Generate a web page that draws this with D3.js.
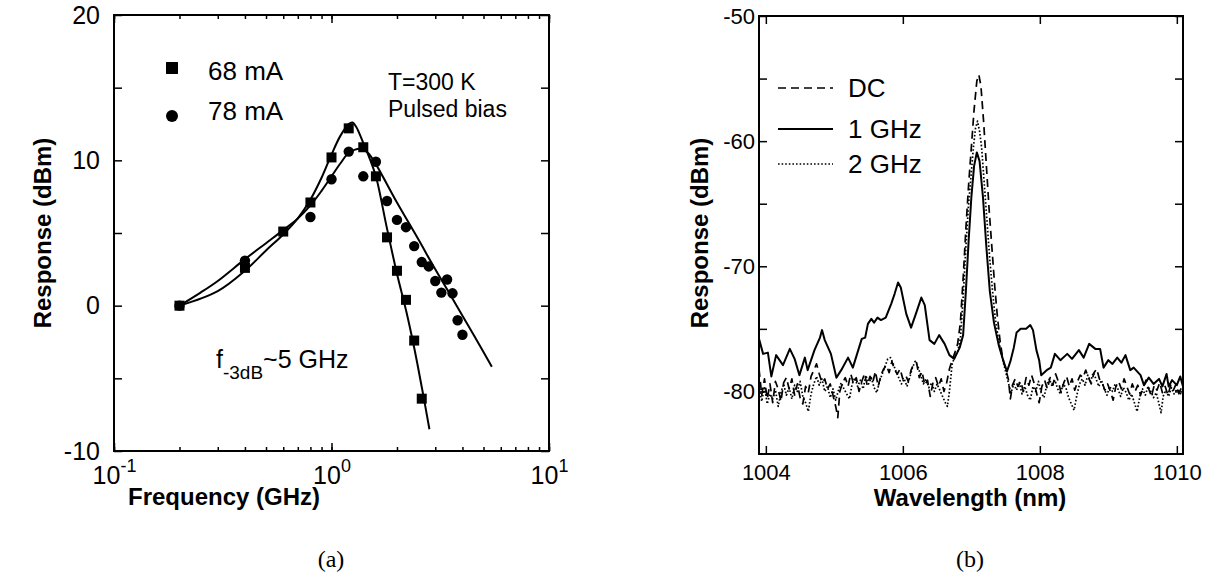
<!DOCTYPE html>
<html>
<head>
<meta charset="utf-8">
<script src="https://cdn.jsdelivr.net/npm/d3@7"></script>
<style>
  body { margin: 0; background: #fff; }
  svg { display: block; font-family: "Liberation Sans", Arial, sans-serif; }
</style>
</head>
<body>
<svg id="chart" width="1230" height="584"></svg>
<script>
// ---- panel (a): modulation response ----
const freq68 = [0.2, 0.4, 0.6, 0.8, 1.0, 1.2, 1.4, 1.6, 1.8, 2.0, 2.2, 2.4, 2.6]
const resp68 = [0, 2.6, 5.1, 7.1, 10.2, 12.2, 10.9, 8.9, 4.7, 2.4, 0.4, -2.4, -6.4]

const freq78 = [0.2, 0.4, 0.8, 1.0, 1.2, 1.4, 1.6, 1.8, 2.0, 2.2, 2.4, 2.6, 2.8, 3.0, 3.2, 3.4, 3.6, 3.8, 4.0]
const resp78 = [0, 3.1, 6.1, 8.7, 10.6, 8.9, 9.9, 7.2, 5.9, 5.4, 4.1, 3.0, 2.7, 1.7, 0.9, 1.8, 0.85, -1.0, -2.0]

// fitted curves
const fit68 = [[0.2, 0], [0.3, 1.0], [0.4, 2.4], [0.5, 3.8], [0.6, 4.9], [0.7, 6.0], [0.8, 7.3], [0.9, 8.8],
  [1.0, 10.4], [1.1, 11.7], [1.2, 12.5], [1.25, 12.6], [1.3, 12.3], [1.4, 11.2], [1.5, 10.1], [1.6, 8.9],
  [1.8, 5.3], [2.0, 2.2], [2.2, -0.3], [2.4, -2.9], [2.6, -5.6], [2.82, -8.5]]
const fit78 = [[0.2, 0], [0.25, 0.9], [0.3, 1.7], [0.4, 3.2], [0.5, 4.3], [0.6, 5.2], [0.7, 6.0], [0.8, 6.9],
  [0.9, 7.9], [1.0, 8.9], [1.1, 9.8], [1.2, 10.5], [1.35, 10.8], [1.45, 10.6], [1.56, 10.0], [2.0, 7.1],
  [2.5, 4.6], [3.0, 2.5], [3.5, 0.8], [4.0, -0.7], [4.5, -2.0], [5.46, -4.2]]

const yTicksA = [-10, -5, 0, 5, 10, 15, 20]
const xMajorA = [0.1, 1, 10]
const xExpA = ['-1', '0', '1']

// ---- panel (b): optical spectra ----
const legendB = ['DC', '1 GHz', '2 GHz']
const yTicksB = [-80, -75, -70, -65, -60, -55, -50]
const xTicksB = [1004, 1006, 1008, 1010]

const spec1GHz = [[1003.9, -75.8], [1003.96, -77.0], [1004.03, -76.9], [1004.08, -78.8], [1004.15, -77.1],
  [1004.25, -77.9], [1004.35, -76.6], [1004.42, -77.4], [1004.49, -78.7], [1004.57, -77.3], [1004.61, -78.3],
  [1004.71, -76.7], [1004.79, -75.7], [1004.82, -75.1], [1004.86, -75.9], [1004.95, -77.0], [1005.03, -78.9],
  [1005.1, -78.3], [1005.2, -77.3], [1005.27, -78.1], [1005.4, -75.8], [1005.45, -75.7], [1005.49, -74.6],
  [1005.54, -74.2], [1005.58, -74.5], [1005.63, -74.1], [1005.68, -74.3], [1005.75, -74.1], [1005.83, -73.0],
  [1005.88, -72.2], [1005.93, -71.3], [1005.97, -71.7], [1006.05, -73.8], [1006.12, -74.9], [1006.19, -73.8],
  [1006.27, -72.5], [1006.32, -73.1], [1006.39, -75.9], [1006.46, -76.2], [1006.53, -75.5], [1006.61, -76.2],
  [1006.68, -77.1], [1006.75, -77.4], [1006.83, -76.5], [1006.88, -75.5], [1006.92, -72], [1006.96, -68],
  [1007.0, -64.5], [1007.04, -62], [1007.08, -60.9], [1007.12, -61.6], [1007.17, -64.5], [1007.22, -68.5],
  [1007.27, -72], [1007.33, -74.5], [1007.4, -76.3], [1007.47, -77.6], [1007.52, -78.4], [1007.57, -77.6],
  [1007.62, -76.5], [1007.66, -75.3], [1007.72, -75.0], [1007.8, -75.0], [1007.86, -74.7], [1007.9, -75.1],
  [1007.95, -76.7], [1007.99, -77.5], [1008.02, -78.7], [1008.1, -78.3], [1008.16, -78.1], [1008.22, -77.0],
  [1008.3, -77.5], [1008.4, -77.0], [1008.47, -77.4], [1008.57, -76.7], [1008.64, -77.3], [1008.72, -76.2],
  [1008.81, -76.6], [1008.88, -76.6], [1008.93, -78.1], [1009.0, -77.5], [1009.06, -77.8], [1009.13, -77.3],
  [1009.19, -77.7], [1009.25, -77.1], [1009.32, -78.3], [1009.37, -78.1], [1009.47, -78.7], [1009.52, -79.5],
  [1009.59, -78.9], [1009.66, -79.4], [1009.74, -79.0], [1009.79, -79.6], [1009.85, -78.6], [1009.88, -79.6],
  [1009.93, -79.1], [1010.0, -79.5], [1010.05, -78.8], [1010.09, -79.6]]

const specDC = [[1003.9, -78.2], [1003.94, -80.3], [1003.98, -79.0], [1004.02, -80.6], [1004.06, -79.4],
  [1004.1, -80.9], [1004.14, -79.2], [1004.18, -79.8], [1004.22, -80.8], [1004.26, -79.3], [1004.3, -78.9],
  [1004.34, -79.8], [1004.38, -79.0], [1004.42, -80.3], [1004.46, -79.4], [1004.5, -80.5], [1004.54, -81.0],
  [1004.58, -79.6], [1004.62, -80.1], [1004.66, -78.8], [1004.7, -78.3], [1004.74, -77.8], [1004.78, -78.6],
  [1004.82, -79.3], [1004.86, -79.0], [1004.9, -79.8], [1004.94, -79.4], [1004.98, -80.3], [1005.02, -81.2],
  [1005.05, -82.1], [1005.08, -80.0], [1005.12, -79.3], [1005.16, -78.9], [1005.2, -79.6], [1005.24, -78.6],
  [1005.28, -79.4], [1005.32, -78.9], [1005.36, -80.0], [1005.4, -79.2], [1005.44, -78.6], [1005.48, -79.5],
  [1005.52, -78.8], [1005.56, -79.3], [1005.6, -78.4], [1005.64, -79.6], [1005.68, -78.7], [1005.72, -78.2],
  [1005.76, -77.9], [1005.8, -78.5], [1005.84, -77.6], [1005.88, -78.3], [1005.92, -78.6], [1005.96, -78.2],
  [1006.0, -79.0], [1006.04, -78.7], [1006.08, -79.2], [1006.12, -78.3], [1006.16, -77.8], [1006.2, -77.7],
  [1006.24, -78.9], [1006.28, -78.4], [1006.32, -79.5], [1006.36, -79.1], [1006.4, -80.4], [1006.44, -79.3],
  [1006.48, -78.9], [1006.52, -79.6], [1006.56, -79.0], [1006.6, -80.0], [1006.64, -79.3], [1006.68, -78.2],
  [1006.72, -77.5], [1006.76, -76.9], [1006.8, -76.2], [1006.84, -74.5], [1006.88, -71], [1006.92, -67],
  [1006.96, -63.5], [1007.0, -60.5], [1007.04, -57.5], [1007.08, -55.2], [1007.11, -54.7], [1007.14, -55.6],
  [1007.18, -58.5], [1007.22, -62], [1007.26, -65.5], [1007.3, -68.5], [1007.34, -71.5], [1007.38, -74],
  [1007.42, -76], [1007.46, -77.4], [1007.5, -78.2], [1007.54, -79.0], [1007.57, -80.6], [1007.6, -79.5],
  [1007.64, -79.0], [1007.68, -79.6], [1007.72, -79.2], [1007.76, -80.0], [1007.8, -78.9], [1007.84, -79.5],
  [1007.88, -78.7], [1007.92, -79.4], [1007.96, -80.3], [1007.99, -80.9], [1008.03, -79.6], [1008.07, -79.1],
  [1008.11, -79.8], [1008.15, -78.9], [1008.19, -79.5], [1008.23, -78.6], [1008.27, -79.2], [1008.31, -80.1],
  [1008.35, -79.3], [1008.39, -78.8], [1008.43, -79.6], [1008.47, -79.0], [1008.51, -79.9], [1008.55, -79.2],
  [1008.59, -78.7], [1008.63, -78.9], [1008.67, -78.3], [1008.71, -78.9], [1008.75, -79.4], [1008.79, -78.5],
  [1008.83, -78.2], [1008.87, -79.0], [1008.91, -79.3], [1008.95, -79.9], [1008.99, -79.4], [1009.03, -80.0],
  [1009.07, -80.7], [1009.11, -79.6], [1009.15, -79.2], [1009.19, -79.8], [1009.23, -79.0], [1009.27, -79.6],
  [1009.31, -80.2], [1009.35, -79.4], [1009.39, -80.0], [1009.43, -79.5], [1009.47, -80.3], [1009.51, -79.7],
  [1009.55, -79.1], [1009.59, -79.8], [1009.63, -80.4], [1009.67, -79.5], [1009.71, -79.9], [1009.75, -79.3],
  [1009.79, -80.1], [1009.83, -79.6], [1009.87, -80.3], [1009.91, -79.5], [1009.95, -79.9], [1009.99, -79.4],
  [1010.03, -80.1], [1010.07, -79.7], [1010.09, -80.0]]

const spec2GHz = [[1003.9, -79.5], [1003.94, -80.8], [1003.98, -79.6], [1004.02, -81.0], [1004.06, -80.2],
  [1004.1, -80.6], [1004.14, -79.9], [1004.18, -81.2], [1004.22, -80.1], [1004.26, -79.4], [1004.3, -80.3],
  [1004.34, -79.7], [1004.38, -80.6], [1004.42, -79.5], [1004.46, -80.0], [1004.5, -79.2], [1004.54, -80.4],
  [1004.58, -80.9], [1004.62, -81.6], [1004.66, -80.2], [1004.7, -79.4], [1004.74, -78.8], [1004.78, -79.5],
  [1004.82, -79.0], [1004.86, -80.0], [1004.9, -79.6], [1004.94, -80.5], [1004.98, -79.8], [1005.02, -80.7],
  [1005.06, -79.9], [1005.1, -79.3], [1005.14, -79.8], [1005.18, -80.2], [1005.22, -80.6], [1005.26, -79.4],
  [1005.3, -78.9], [1005.34, -79.6], [1005.38, -79.1], [1005.42, -79.8], [1005.46, -78.7], [1005.5, -79.4],
  [1005.54, -78.9], [1005.58, -79.7], [1005.62, -80.1], [1005.66, -79.2], [1005.7, -78.6], [1005.74, -78.0],
  [1005.78, -77.4], [1005.82, -77.3], [1005.86, -77.8], [1005.9, -78.4], [1005.94, -78.9], [1005.98, -79.4],
  [1006.02, -79.0], [1006.06, -79.6], [1006.1, -78.9], [1006.14, -78.1], [1006.18, -77.6], [1006.22, -78.0],
  [1006.26, -78.7], [1006.3, -79.4], [1006.34, -79.0], [1006.38, -79.7], [1006.42, -79.3], [1006.46, -80.0],
  [1006.5, -79.4], [1006.54, -79.9], [1006.58, -80.4], [1006.62, -80.9], [1006.65, -81.2], [1006.68, -80.0],
  [1006.72, -77.8], [1006.76, -77.2], [1006.8, -76.8], [1006.84, -75.8], [1006.88, -72.5], [1006.92, -68.5],
  [1006.96, -65], [1007.0, -62.5], [1007.03, -60.5], [1007.06, -59], [1007.09, -58.4], [1007.12, -59.2],
  [1007.15, -60.5], [1007.19, -63.5], [1007.23, -66.5], [1007.27, -69.5], [1007.31, -72], [1007.35, -74.2],
  [1007.4, -76], [1007.45, -77.3], [1007.5, -78.4], [1007.54, -79.3], [1007.58, -80.1], [1007.62, -79.4],
  [1007.66, -79.9], [1007.7, -79.3], [1007.74, -80.2], [1007.78, -79.6], [1007.82, -80.3], [1007.86, -80.7],
  [1007.9, -79.6], [1007.94, -80.0], [1007.98, -79.2], [1008.02, -80.1], [1008.06, -80.5], [1008.1, -79.5],
  [1008.14, -79.0], [1008.18, -79.6], [1008.22, -79.1], [1008.26, -79.8], [1008.3, -80.2], [1008.34, -79.4],
  [1008.38, -79.7], [1008.42, -80.5], [1008.46, -81.0], [1008.5, -81.5], [1008.54, -80.3], [1008.58, -79.4],
  [1008.62, -79.0], [1008.66, -79.5], [1008.7, -78.7], [1008.74, -79.2], [1008.78, -78.5], [1008.82, -79.0],
  [1008.86, -79.6], [1008.9, -79.1], [1008.94, -79.8], [1008.98, -80.3], [1009.02, -79.6], [1009.06, -80.0],
  [1009.1, -79.4], [1009.14, -79.8], [1009.18, -80.4], [1009.22, -79.7], [1009.26, -80.1], [1009.3, -80.7],
  [1009.34, -80.2], [1009.38, -80.9], [1009.42, -81.6], [1009.46, -80.4], [1009.5, -79.8], [1009.54, -80.3],
  [1009.58, -79.6], [1009.62, -80.0], [1009.66, -80.5], [1009.7, -80.1], [1009.74, -81.0], [1009.77, -81.7],
  [1009.8, -80.4], [1009.84, -79.9], [1009.88, -80.4], [1009.92, -79.7], [1009.96, -80.2], [1010.0, -79.8],
  [1010.04, -80.3], [1010.09, -79.9]]

const svg = d3.select('#chart')
svg.append('rect').attr('width', 1230).attr('height', 584).attr('fill', '#fff')

// common axis clean-up
function styleAxis(sel, size) {
  sel.attr('font-family', null).attr('font-size', size || 24)
  sel.select('.domain').remove()
  sel.selectAll('line').attr('stroke', '#000').attr('stroke-width', 1.5)
  sel.selectAll('text').attr('fill', '#000')
}

/* ===================== panel (a) ===================== */
const xa = d3.scaleLog().domain([0.1, 10]).range([114, 549])
const ya = d3.scaleLinear().domain([-10, 20]).range([451, 15])
const ga = svg.append('g')

// minor + major log ticks, bottom and top, pointing inward
ga.append('g').attr('transform', 'translate(0,451)')
  .call(d3.axisBottom(xa).tickValues(xa.ticks()).tickSizeInner(-4).tickSizeOuter(0).tickFormat(''))
  .call(styleAxis)
ga.append('g').attr('transform', 'translate(0,15)')
  .call(d3.axisTop(xa).tickValues(xa.ticks()).tickSizeInner(-4).tickSizeOuter(0).tickFormat(''))
  .call(styleAxis)
ga.append('g').attr('transform', 'translate(0,15)')
  .call(d3.axisTop(xa).tickValues(xMajorA).tickSizeInner(-8).tickSizeOuter(0).tickFormat(''))
  .call(styleAxis)
const xAxisA = ga.append('g').attr('transform', 'translate(0,451)')
  .call(d3.axisBottom(xa).tickValues(xMajorA).tickSizeInner(-8).tickSizeOuter(0).tickFormat(''))
  .call(styleAxis)

// 10^n labels
xAxisA.selectAll('.tick').each(function (d, i) {
  const t = d3.select(this).append('text')
    .attr('y', 33).attr('text-anchor', 'middle').attr('fill', '#000').attr('font-size', 25)
  t.append('tspan').text('10')
  t.append('tspan').attr('dy', -12).attr('font-size', 18).text(xExpA[i])
})

ga.append('g').attr('transform', 'translate(114,0)')
  .call(d3.axisLeft(ya).tickValues(yTicksA).tickSizeInner(-8).tickSizeOuter(0).tickPadding(14)
    .tickFormat(d => d % 10 === 0 ? String(d) : ''))
  .call(styleAxis, 25)
ga.append('g').attr('transform', 'translate(549,0)')
  .call(d3.axisRight(ya).tickValues(yTicksA).tickSizeInner(-8).tickSizeOuter(0).tickFormat(''))
  .call(styleAxis)

ga.append('rect').attr('x', 114).attr('y', 15).attr('width', 435).attr('height', 436)
  .attr('fill', 'none').attr('stroke', '#000').attr('stroke-width', 2)

const fitLine = d3.line().x(d => xa(d[0])).y(d => ya(d[1])).curve(d3.curveCatmullRom.alpha(0.5))
ga.append('path').datum(fit68).attr('d', fitLine)
  .attr('fill', 'none').attr('stroke', '#000').attr('stroke-width', 2)
ga.append('path').datum(fit78).attr('d', fitLine)
  .attr('fill', 'none').attr('stroke', '#000').attr('stroke-width', 2)

ga.append('g').selectAll('rect')
  .data(freq68.map((f, i) => [f, resp68[i]]))
  .enter().append('rect')
  .attr('x', d => xa(d[0]) - 5).attr('y', d => ya(d[1]) - 5)
  .attr('width', 10).attr('height', 10).attr('fill', '#000')
ga.append('g').selectAll('circle')
  .data(freq78.map((f, i) => [f, resp78[i]]))
  .enter().append('circle')
  .attr('cx', d => xa(d[0])).attr('cy', d => ya(d[1])).attr('r', 5.2).attr('fill', '#000')

// legend and notes
ga.append('rect').attr('x', 166).attr('y', 62).attr('width', 12).attr('height', 12).attr('fill', '#000')
ga.append('circle').attr('cx', 172).attr('cy', 116).attr('r', 6).attr('fill', '#000')
ga.append('text').attr('x', 208).attr('y', 80).attr('font-size', 26).text('68 mA')
ga.append('text').attr('x', 208).attr('y', 120).attr('font-size', 26).text('78 mA')
ga.append('text').attr('x', 388).attr('y', 90).attr('font-size', 23).text('T=300 K')
ga.append('text').attr('x', 388).attr('y', 117).attr('font-size', 23).text('Pulsed bias')
const f3 = ga.append('text').attr('x', 216).attr('y', 368).attr('font-size', 25)
f3.append('tspan').text('f')
f3.append('tspan').attr('dy', 11).attr('font-size', 19).text('-3dB')
f3.append('tspan').attr('dy', -11).text('~5 GHz')

ga.append('text').attr('x', 224).attr('y', 505).attr('text-anchor', 'middle')
  .attr('font-size', 24).attr('font-weight', 'bold').text('Frequency (GHz)')
ga.append('text').attr('transform', 'translate(51,233) rotate(-90)').attr('text-anchor', 'middle')
  .attr('font-size', 24).attr('font-weight', 'bold').text('Response (dBm)')
ga.append('text').attr('x', 331).attr('y', 567).attr('text-anchor', 'middle')
  .attr('font-family', '"Liberation Serif", "Times New Roman", serif').attr('font-size', 24).text('(a)')

/* ===================== panel (b) ===================== */
const xb = d3.scaleLinear().domain([1003.9, 1010.09]).range([759, 1183])
const yb = d3.scaleLinear().domain([-85, -50]).range([454, 16])
const gb = svg.append('g')

gb.append('clipPath').attr('id', 'clipB').append('rect')
  .attr('x', 759).attr('y', 16).attr('width', 424).attr('height', 438)

gb.append('g').attr('transform', 'translate(0,454)')
  .call(d3.axisBottom(xb).tickValues(xTicksB).tickSizeInner(-8).tickSizeOuter(0).tickPadding(10)
    .tickFormat(d => String(d)))
  .call(styleAxis, 22)
gb.append('g').attr('transform', 'translate(0,16)')
  .call(d3.axisTop(xb).tickValues(xTicksB).tickSizeInner(-8).tickSizeOuter(0).tickFormat(''))
  .call(styleAxis)
gb.append('g').attr('transform', 'translate(759,0)')
  .call(d3.axisLeft(yb).tickValues(yTicksB).tickSizeInner(-8).tickSizeOuter(0).tickPadding(4)
    .tickFormat(d => d % 10 === 0 ? String(d) : ''))
  .call(styleAxis, 22)
gb.append('g').attr('transform', 'translate(1183,0)')
  .call(d3.axisRight(yb).tickValues(yTicksB).tickSizeInner(-8).tickSizeOuter(0).tickFormat(''))
  .call(styleAxis)

gb.append('rect').attr('x', 759).attr('y', 16).attr('width', 424).attr('height', 438)
  .attr('fill', 'none').attr('stroke', '#000').attr('stroke-width', 2)

const specLine = d3.line().x(d => xb(d[0])).y(d => yb(d[1]))
const styles = [
  { data: specDC, dash: '8,5', width: 1.7 },
  { data: spec1GHz, dash: null, width: 2 },
  { data: spec2GHz, dash: '1.6,2', width: 1.7 }
]
const plotB = gb.append('g').attr('clip-path', 'url(#clipB)')
styles.forEach(s => {
  plotB.append('path').datum(s.data).attr('d', specLine)
    .attr('fill', 'none').attr('stroke', '#000').attr('stroke-width', s.width)
    .attr('stroke-dasharray', s.dash).attr('stroke-linejoin', 'round')
})

// legend
const legY = [88, 129, 164]
styles.forEach((s, i) => {
  gb.append('line').attr('x1', 778).attr('x2', 833).attr('y1', legY[i]).attr('y2', legY[i])
    .attr('stroke', '#000').attr('stroke-width', s.width).attr('stroke-dasharray', s.dash)
  gb.append('text').attr('x', 848).attr('y', legY[i] + 9).attr('font-size', 26).text(legendB[i])
})

gb.append('text').attr('x', 970).attr('y', 506).attr('text-anchor', 'middle')
  .attr('font-size', 24).attr('font-weight', 'bold').text('Wavelength (nm)')
gb.append('text').attr('transform', 'translate(708,233) rotate(-90)').attr('text-anchor', 'middle')
  .attr('font-size', 24).attr('font-weight', 'bold').text('Response (dBm)')
gb.append('text').attr('x', 970).attr('y', 567).attr('text-anchor', 'middle')
  .attr('font-family', '"Liberation Serif", "Times New Roman", serif').attr('font-size', 24).text('(b)')
</script>
</body>
</html>
